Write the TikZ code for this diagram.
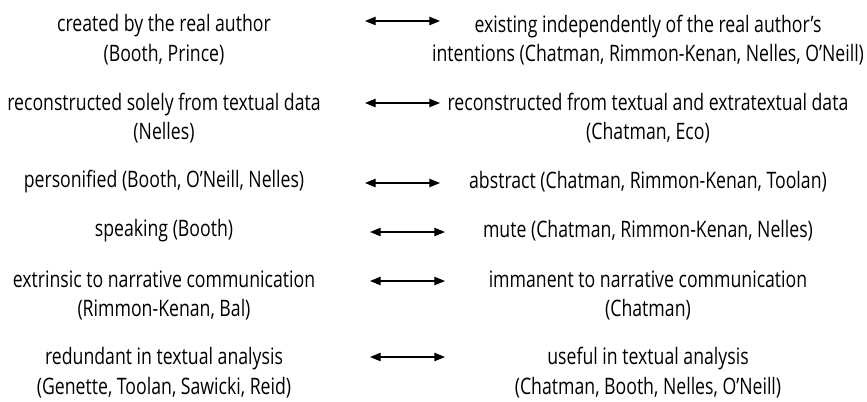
\documentclass[tikz,border=0pt]{standalone}
\usepackage{fontspec}
\setmainfont{Open Sans}[FakeStretch=0.78]
\usetikzlibrary{arrows.meta}
\tikzset{
  lbl/.style={align=center, inner sep=0pt, font=\fontsize{17pt}{22.3pt}\selectfont, text=black},
  dbl/.style={{Triangle[length=8pt,width=6.3pt]}-{Triangle[length=8pt,width=6.3pt]}, line width=0.85pt, black}
}
\begin{document}
\begin{tikzpicture}[x=0.75pt,y=-0.75pt]
\useasboundingbox (0,0) rectangle (867,401);
% left column
\node[lbl] (l1) at (164,40) {created by the real author\\(Booth, Prince)};
\node[lbl] (l2) at (164,118) {reconstructed solely from textual data\\(Nelles)};
\node[lbl] (l3) at (164,182) {personified (Booth, O’Neill, Nelles)};
\node[lbl] (l4) at (164,231) {speaking (Booth)};
\node[lbl] (l5) at (164,295.5) {extrinsic to narrative communication\\(Rimmon-Kenan, Bal)};
\node[lbl] (l6) at (164,372.5) {redundant in textual analysis\\(Genette, Toolan, Sawicki, Reid)};
% right column
\node[lbl] (r1) at (648,40) {existing independently of the real author’s\\intentions (Chatman, Rimmon-Kenan, Nelles, O’Neill)};
\node[lbl] (r2) at (648,118) {reconstructed from textual and extratextual data\\(Chatman, Eco)};
\node[lbl] (r3) at (648,182) {abstract (Chatman, Rimmon-Kenan, Toolan)};
\node[lbl] (r4) at (648,231) {mute (Chatman, Rimmon-Kenan, Nelles)};
\node[lbl] (r5) at (648,295.5) {immanent to narrative communication\\(Chatman)};
\node[lbl] (r6) at (648,372.5) {useful in textual analysis\\(Chatman, Booth, Nelles, O’Neill)};
% arrow end points
\coordinate (a1l) at (365,21);  \coordinate (a1r) at (440,21);
\coordinate (a2l) at (365,103); \coordinate (a2r) at (440,103);
\coordinate (a3l) at (365,183); \coordinate (a3r) at (440,183);
\coordinate (a4l) at (370,232); \coordinate (a4r) at (445,232);
\coordinate (a5l) at (370,281); \coordinate (a5r) at (445,281);
\coordinate (a6l) at (370,357); \coordinate (a6r) at (445,357);
\draw[dbl] (a1l) -- (a1r);
\draw[dbl] (a2l) -- (a2r);
\draw[dbl] (a3l) -- (a3r);
\draw[dbl] (a4l) -- (a4r);
\draw[dbl] (a5l) -- (a5r);
\draw[dbl] (a6l) -- (a6r);
\end{tikzpicture}
\end{document}
